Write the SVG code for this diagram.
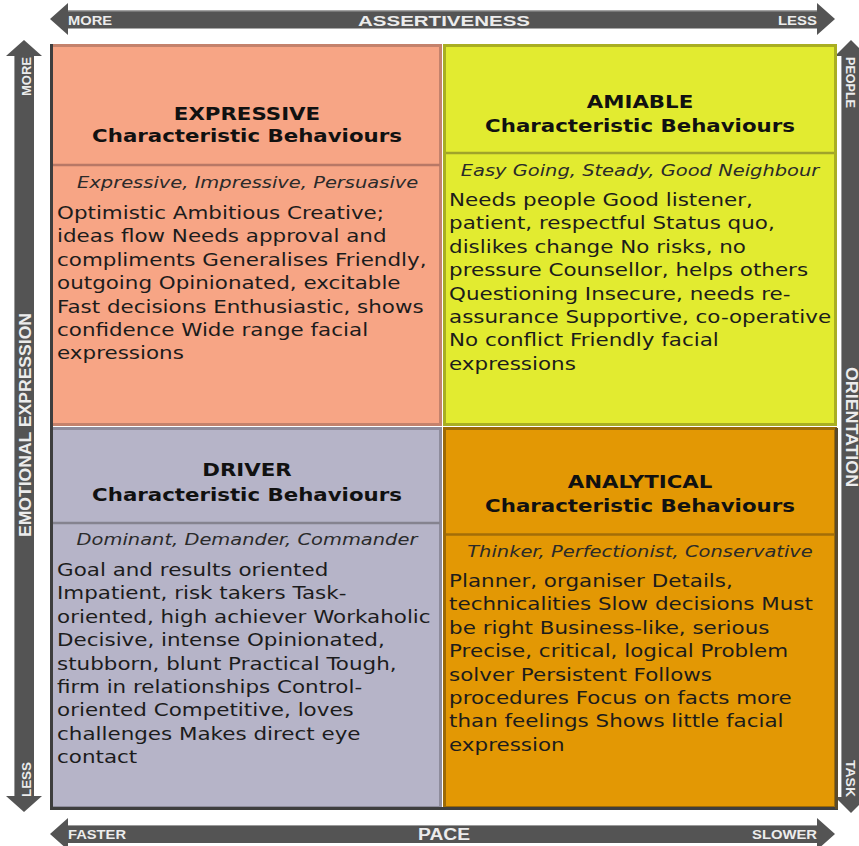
<svg xmlns="http://www.w3.org/2000/svg" width="859" height="846" viewBox="0 0 859 846">
<style>
.hd{font-family:"DejaVu Sans",Verdana,sans-serif;font-weight:bold;font-size:17.2px;fill:#111;text-anchor:middle}
.sub{font-family:"DejaVu Sans",Verdana,sans-serif;font-style:italic;font-size:15.7px;fill:#2a2a2a;text-anchor:middle}
.bd{font-family:"DejaVu Sans",Verdana,sans-serif;font-size:17.3px;fill:#1c1c1c}
.ax{font-family:"Liberation Sans",Arial,sans-serif;font-weight:bold;fill:#ececec}
.arrow{fill:#545454}
</style>
<rect width="859" height="846" fill="#ffffff"/>
<g id="axes">
  <polygon class="arrow" points="50,19 68,3 68,10.5 817,10.5 817,3 835,19 817,35 817,28.5 68,28.5 68,35"/>
  <line x1="68" y1="11" x2="817" y2="11" stroke="#9a9a9a" stroke-width="1"/>
  <polygon class="arrow" points="50,834 68,818 68,825 817,825 817,818 835,834 817,850 817,843 68,843 68,850"/>
  <line x1="68" y1="825.5" x2="817" y2="825.5" stroke="#9a9a9a" stroke-width="1"/>
  <polygon class="arrow" points="24,40 42,56 34,56 34,796 42,796 24,812 6,796 14,796 14,56 6,56"/>
  <line x1="14.5" y1="56" x2="14.5" y2="796" stroke="#9a9a9a" stroke-width="1"/>
  <polygon class="arrow" points="851,40 867,56 861,56 861,797 867,797 851,813 835,797 841,797 841,56 835,56"/>
  <line x1="841.5" y1="56" x2="841.5" y2="797" stroke="#9a9a9a" stroke-width="1"/>
  <text class="ax" x="68" y="24.5" font-size="12.5" textLength="44" lengthAdjust="spacingAndGlyphs">MORE</text>
  <text class="ax" x="358" y="26" font-size="15.5" textLength="172" lengthAdjust="spacingAndGlyphs">ASSERTIVENESS</text>
  <text class="ax" x="778" y="24.5" font-size="12.5" textLength="39" lengthAdjust="spacingAndGlyphs">LESS</text>
  <text class="ax" x="68" y="839" font-size="12.5" textLength="58" lengthAdjust="spacingAndGlyphs">FASTER</text>
  <text class="ax" x="418" y="840" font-size="16" textLength="52" lengthAdjust="spacingAndGlyphs">PACE</text>
  <text class="ax" x="752" y="839" font-size="12.5" textLength="65" lengthAdjust="spacingAndGlyphs">SLOWER</text>
  <text class="ax" transform="translate(30.5,76.5) rotate(-90)" x="0" y="0" text-anchor="middle" font-size="12.5" textLength="39" lengthAdjust="spacingAndGlyphs">MORE</text>
  <text class="ax" transform="translate(31,425) rotate(-90)" x="0" y="0" text-anchor="middle" font-size="16" textLength="224" lengthAdjust="spacingAndGlyphs">EMOTIONAL EXPRESSION</text>
  <text class="ax" transform="translate(30.5,779.5) rotate(-90)" x="0" y="0" text-anchor="middle" font-size="12.5" textLength="35" lengthAdjust="spacingAndGlyphs">LESS</text>
  <text class="ax" transform="translate(845.5,82.5) rotate(90)" x="0" y="0" text-anchor="middle" font-size="12.5" textLength="51" lengthAdjust="spacingAndGlyphs">PEOPLE</text>
  <text class="ax" transform="translate(845.5,427) rotate(90)" x="0" y="0" text-anchor="middle" font-size="16" textLength="120" lengthAdjust="spacingAndGlyphs">ORIENTATION</text>
  <text class="ax" transform="translate(845.5,778.5) rotate(90)" x="0" y="0" text-anchor="middle" font-size="12.5" textLength="37" lengthAdjust="spacingAndGlyphs">TASK</text>
</g>
<g id="expressive">
  <rect x="51.5" y="45.5" width="389" height="379" fill="#F7A585" stroke="#C4826C" stroke-width="3"/>
  <line x1="53" y1="165" x2="440" y2="165" stroke="#B87866" stroke-width="2.5"/>
  <g transform="translate(247,0) scale(1.24,1)">
    <text class="hd" x="0" y="120">EXPRESSIVE</text>
    <text class="hd" x="0" y="142">Characteristic Behaviours</text>
    <text class="sub" x="0.5" y="188">Expressive, Impressive, Persuasive</text>
    <text class="bd" y="219">
      <tspan x="-153.2">Optimistic Ambitious Creative;</tspan>
      <tspan x="-153.2" dy="23.4">ideas flow Needs approval and</tspan>
      <tspan x="-153.2" dy="23.4">compliments Generalises Friendly,</tspan>
      <tspan x="-153.2" dy="23.4">outgoing Opinionated, excitable</tspan>
      <tspan x="-153.2" dy="23.4">Fast decisions Enthusiastic, shows</tspan>
      <tspan x="-153.2" dy="23.4">confidence Wide range facial</tspan>
      <tspan x="-153.2" dy="23.4">expressions</tspan>
    </text>
  </g>
</g>
<g id="amiable">
  <rect x="444.5" y="45.5" width="391" height="379" fill="#E2EB30" stroke="#A9AE22" stroke-width="3"/>
  <line x1="446" y1="153" x2="834" y2="153" stroke="#A0A32A" stroke-width="2.5"/>
  <g transform="translate(640,0) scale(1.24,1)">
    <text class="hd" x="0" y="108">AMIABLE</text>
    <text class="hd" x="0" y="132.5">Characteristic Behaviours</text>
    <text class="sub" x="0" y="176">Easy Going, Steady, Good Neighbour</text>
    <text class="bd" y="206">
      <tspan x="-154">Needs people Good listener,</tspan>
      <tspan x="-154" dy="23.4">patient, respectful Status quo,</tspan>
      <tspan x="-154" dy="23.4">dislikes change No risks, no</tspan>
      <tspan x="-154" dy="23.4">pressure Counsellor, helps others</tspan>
      <tspan x="-154" dy="23.4">Questioning Insecure, needs re-</tspan>
      <tspan x="-154" dy="23.4">assurance Supportive, co-operative</tspan>
      <tspan x="-154" dy="23.4">No conflict Friendly facial</tspan>
      <tspan x="-154" dy="23.4">expressions</tspan>
    </text>
  </g>
</g>
<g id="driver">
  <rect x="51.5" y="428.5" width="389" height="379" fill="#B6B4C8" stroke="#8E8C9C" stroke-width="3"/>
  <line x1="53" y1="523" x2="440" y2="523" stroke="#85838F" stroke-width="2.5"/>
  <g transform="translate(247,0) scale(1.24,1)">
    <text class="hd" x="0" y="476.5">DRIVER</text>
    <text class="hd" x="0" y="501">Characteristic Behaviours</text>
    <text class="sub" x="0" y="545">Dominant, Demander, Commander</text>
    <text class="bd" y="576">
      <tspan x="-153.2">Goal and results oriented</tspan>
      <tspan x="-153.2" dy="23.4">Impatient, risk takers Task-</tspan>
      <tspan x="-153.2" dy="23.4">oriented, high achiever Workaholic</tspan>
      <tspan x="-153.2" dy="23.4">Decisive, intense Opinionated,</tspan>
      <tspan x="-153.2" dy="23.4">stubborn, blunt Practical Tough,</tspan>
      <tspan x="-153.2" dy="23.4">firm in relationships Control-</tspan>
      <tspan x="-153.2" dy="23.4">oriented Competitive, loves</tspan>
      <tspan x="-153.2" dy="23.4">challenges Makes direct eye</tspan>
      <tspan x="-153.2" dy="23.4">contact</tspan>
    </text>
  </g>
</g>
<g id="analytical">
  <rect x="444.5" y="428.5" width="391" height="379" fill="#E39804" stroke="#9C6A08" stroke-width="3"/>
  <line x1="446" y1="534.5" x2="834" y2="534.5" stroke="#A36E08" stroke-width="2.5"/>
  <g transform="translate(640,0) scale(1.24,1)">
    <text class="hd" x="0" y="488.5">ANALYTICAL</text>
    <text class="hd" x="0" y="512">Characteristic Behaviours</text>
    <text class="sub" x="0" y="557">Thinker, Perfectionist, Conservative</text>
    <text class="bd" y="587">
      <tspan x="-154">Planner, organiser Details,</tspan>
      <tspan x="-154" dy="23.4">technicalities Slow decisions Must</tspan>
      <tspan x="-154" dy="23.4">be right Business-like, serious</tspan>
      <tspan x="-154" dy="23.4">Precise, critical, logical Problem</tspan>
      <tspan x="-154" dy="23.4">solver Persistent Follows</tspan>
      <tspan x="-154" dy="23.4">procedures Focus on facts more</tspan>
      <tspan x="-154" dy="23.4">than feelings Shows little facial</tspan>
      <tspan x="-154" dy="23.4">expression</tspan>
    </text>
  </g>
</g>
<g id="frame" fill="none" stroke="#3e3e3e" stroke-width="3">
  <polyline points="51.5,44 51.5,808.5 838,808.5"/>
  <line x1="836.5" y1="428" x2="836.5" y2="809" stroke="#5a4a2a"/>
</g>
</svg>
